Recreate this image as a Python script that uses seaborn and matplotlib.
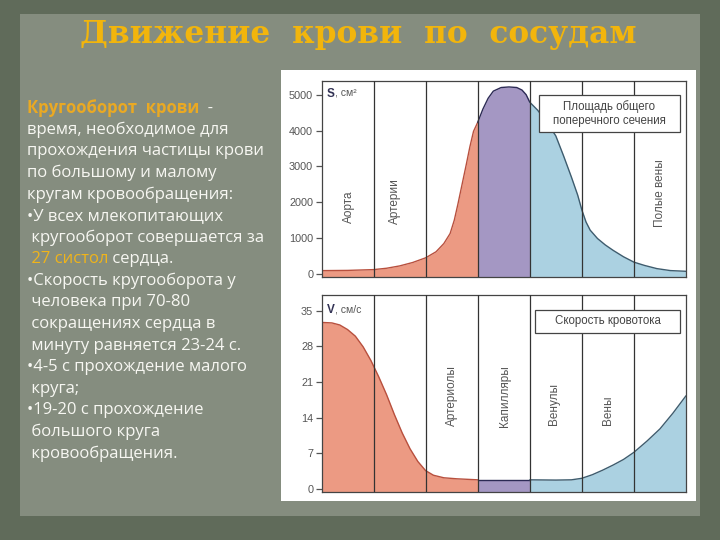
import numpy as np
import pandas as pd
import matplotlib
matplotlib.use("Agg")
import matplotlib.pyplot as plt
from matplotlib.patches import Rectangle
import seaborn as sns

# ---------------- data ----------------
title = "Движение  крови  по  сосудам"

s_x = [0.00, 0.50, 1.00, 1.25, 1.50, 1.75, 2.00, 2.20, 2.35, 2.47, 2.55, 2.62, 2.70, 2.78,
       2.85, 2.92, 3.00, 3.10, 3.20, 3.30, 3.45, 3.60, 3.75, 3.85, 3.93, 4.00, 4.15, 4.33,
       4.50, 4.65, 4.80, 4.92, 5.00, 5.08, 5.16, 5.30, 5.45, 5.60, 5.80, 6.00, 6.20, 6.44,
       6.70, 7.00]
s_y = [94, 100, 122, 160, 225, 320, 451, 620, 850, 1128, 1500, 1950, 2500, 3050,
       3550, 3980, 4230, 4600, 4900, 5100, 5200, 5216, 5200, 5130, 5000, 4790, 4570, 4230,
       3850, 3290, 2700, 2200, 1785, 1450, 1222, 990, 810, 660, 480, 330, 240, 150,
       95, 75]

v_x = [0.00, 0.20, 0.35, 0.50, 0.65, 0.80, 0.95, 1.10, 1.25, 1.40, 1.55, 1.70, 1.85,
       2.00, 2.15, 2.35, 2.60, 3.00, 4.00, 4.50, 4.80, 5.00, 5.20, 5.40, 5.60, 5.80,
       6.00, 6.25, 6.50, 6.75, 7.00]
v_y = [32.7, 32.6, 32.2, 31.3, 30.0, 27.9, 25.2, 22.0, 18.5, 14.6, 11.0, 7.9, 5.4,
       3.6, 2.7, 2.2, 2.0, 1.8, 1.8, 1.75, 1.8, 2.1, 2.8, 3.7, 4.7, 5.8,
       7.2, 9.4, 11.8, 14.9, 18.3]

s_ticks = [0, 1000, 2000, 3000, 4000, 5000]
v_ticks = [0, 7, 14, 21, 28, 35]
boundaries = [1, 2, 3, 4, 5, 6]

s_labels = ["Аорта", "Артерии", "Полые вены"]
s_label_pos = [(0.52, 1880), (1.42, 2020), (6.50, 2255)]
v_labels = ["Артериолы", "Капилляры", "Венулы", "Вены"]
v_label_pos = [(2.50, 18.3), (3.52, 18.3), (4.46, 16.7), (5.51, 15.4)]

s_box = "Площадь общего\nпоперечного сечения"
v_box = "Скорость кровотока"

text_lines = [
    [("Кругооборот  крови", "gold_b"), ("  -", "w")],
    [("время, необходимое для", "w")],
    [("прохождения частицы крови", "w")],
    [("по большому и малому", "w")],
    [("кругам кровообращения:", "w")],
    [("•У всех млекопитающих", "w")],
    [(" кругооборот совершается за", "w")],
    [(" 27 систол", "gold"), (" сердца.", "w")],
    [("•Скорость кругооборота у", "w")],
    [(" человека при 70-80", "w")],
    [(" сокращениях сердца в", "w")],
    [(" минуту равняется 23-24 с.", "w")],
    [("•4-5 с прохождение малого", "w")],
    [(" круга;", "w")],
    [("•19-20 с прохождение", "w")],
    [(" большого круга", "w")],
    [(" кровообращения.", "w")],
]

# ---------------- style ----------------
sns.set_theme(style="white")
plt.rcParams["font.family"] = ["Liberation Sans", "DejaVu Sans"]

C_RED, C_PUR, C_BLUE = "#ec9a83", "#a497c3", "#abd1e1"
E_RED, E_PUR, E_BLUE = "#b8503e", "#2c2a55", "#3e5c6e"
GOLD = "#f2b50c"
TXT = "#555555"

fig = plt.figure(figsize=(7.2, 5.4), dpi=100)
fig.patch.set_facecolor("#606b5a")

# background panel
fig.patches.append(Rectangle((20 / 720, 1 - 516 / 540), 680 / 720, 502 / 540,
                             transform=fig.transFigure, facecolor="#858d7f",
                             edgecolor="none", zorder=-2))
# white chart panel
fig.patches.append(Rectangle((281 / 720, 1 - 501 / 540), 415 / 720, 431 / 540,
                             transform=fig.transFigure, facecolor="white",
                             edgecolor="none", zorder=-1))

fig.text(358 / 720, 1 - 34 / 540, title, ha="center", va="center", color=GOLD,
         fontsize=22.5, fontweight="bold", family=["DejaVu Serif"])

# left text block
y0 = 108
dy = 21.6
FS = 12
for i, segs in enumerate(text_lines):
    y = 1 - (y0 + i * dy) / 540
    xpos = 27 / 720
    for s, kind in segs:
        color = "#f7f7f2" if kind == "w" else ("#eaa923" if kind == "gold_b" else "#f0b41a")
        weight = "bold" if kind == "gold_b" else "normal"
        t = fig.text(xpos, y, s, ha="left", va="center", color=color, fontsize=FS,
                     fontweight=weight, family=["Open Sans", "DejaVu Sans"])
        fig.canvas.draw()
        bb = t.get_window_extent()
        xpos = bb.x1 / fig.bbox.width


def setup_axes(ax, ylim, ticks):
    ax.set_xlim(0, 7)
    ax.set_ylim(*ylim)
    ax.set_yticks(ticks)
    ax.set_xticks([])
    ax.set_xlabel("")
    ax.set_ylabel("")
    for sp in ax.spines.values():
        sp.set_color("#444444")
        sp.set_linewidth(0.9)
    ax.tick_params(axis="y", direction="out", length=4, width=0.9, color="#555555",
                   labelsize=7.8, labelcolor=TXT, pad=2, left=True)
    for b in boundaries:
        ax.axvline(b, color="#333333", lw=0.9, zorder=3)


def draw_curve(ax, xs, ys, base):
    x = np.array(xs)
    y = np.array(ys)
    regions = [(x <= 3.0, C_RED, E_RED), ((x >= 3.0) & (x <= 4.0), C_PUR, E_PUR),
               (x >= 4.0, C_BLUE, E_BLUE)]
    for m, fc, ec in regions:
        ax.fill_between(x[m], base, y[m], color=fc, lw=0, zorder=1)
        sns.lineplot(x=x[m], y=y[m], ax=ax, color=ec, lw=1.0, sort=False, zorder=2)


# top axes
ax1 = fig.add_axes([321.5 / 720, 1 - 277 / 540, 364.5 / 720, 196 / 540])
ax1.set_facecolor("white")
draw_curve(ax1, s_x, s_y, -200)
setup_axes(ax1, (-84, 5382), s_ticks)
for lab, (px, py) in zip(s_labels, s_label_pos):
    ax1.text(px, py, lab, rotation=90, ha="center", va="center", color=TXT, fontsize=8.5)
ax1.add_patch(Rectangle((0.597, 0.740), 0.3865, 0.189, transform=ax1.transAxes,
                        facecolor="white", edgecolor="#444444", lw=0.9, zorder=4))
ax1.text(0.790, 0.835, s_box, transform=ax1.transAxes, ha="center", va="center",
         color="#444444", fontsize=8.3, linespacing=1.25, zorder=5)
ax1.text(0.014, 0.935, "S", transform=ax1.transAxes, ha="left", va="center",
         color="#333355", fontsize=8.5, fontweight="bold", zorder=5)
ax1.text(0.036, 0.935, ", см²", transform=ax1.transAxes, ha="left", va="center",
         color=TXT, fontsize=7.5, zorder=5)

# bottom axes
ax2 = fig.add_axes([321.5 / 720, 1 - 492 / 540, 364.5 / 720, 197 / 540])
ax2.set_facecolor("white")
draw_curve(ax2, v_x, v_y, -2)
setup_axes(ax2, (-0.59, 38.08), v_ticks)
for lab, (px, py) in zip(v_labels, v_label_pos):
    ax2.text(px, py, lab, rotation=90, ha="center", va="center", color=TXT, fontsize=8.5)
ax2.add_patch(Rectangle((0.586, 0.807), 0.398, 0.117, transform=ax2.transAxes,
                        facecolor="white", edgecolor="#444444", lw=0.9, zorder=4))
ax2.text(0.785, 0.866, v_box, transform=ax2.transAxes, ha="center", va="center",
         color="#444444", fontsize=8.3, zorder=5)
ax2.text(0.014, 0.925, "V", transform=ax2.transAxes, ha="left", va="center",
         color="#333355", fontsize=8.5, fontweight="bold", zorder=5)
ax2.text(0.037, 0.925, ", см/с", transform=ax2.transAxes, ha="left", va="center",
         color=TXT, fontsize=7.5, zorder=5)

fig.savefig("out.png", dpi=100, facecolor=fig.get_facecolor())
